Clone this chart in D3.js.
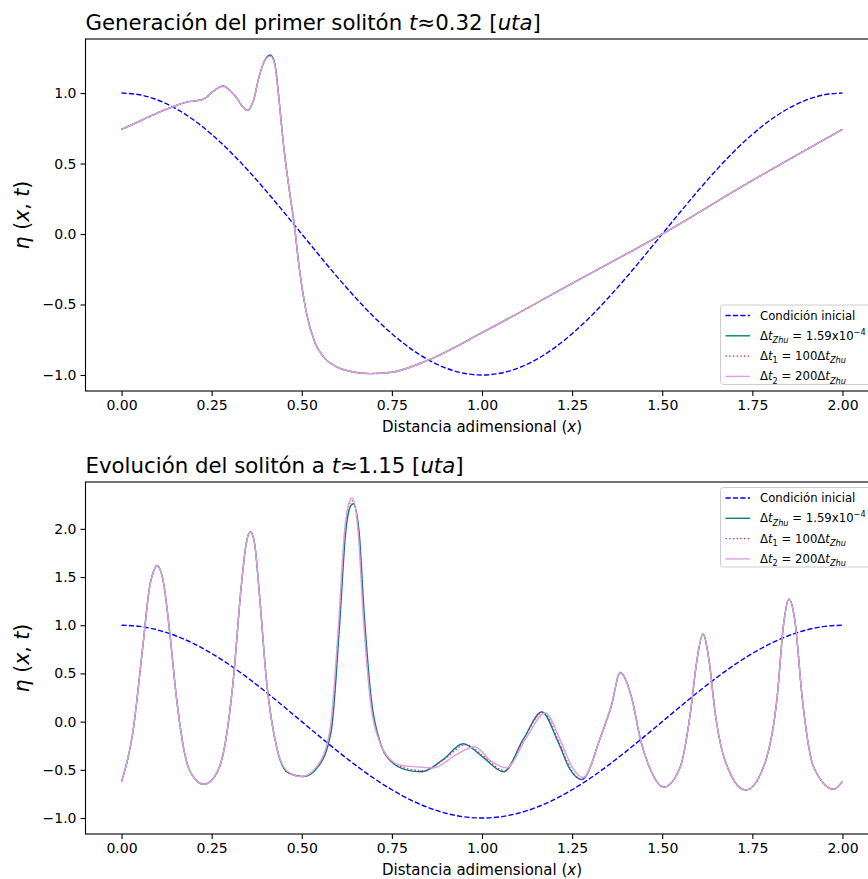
<!DOCTYPE html>
<html><head><meta charset="utf-8">
<script src="https://cdn.jsdelivr.net/npm/d3@7"></script>
<style>body{margin:0;background:#fff}svg{display:block;font-family:"DejaVu Sans",sans-serif}</style>
</head><body><svg id="c" width="868" height="879"></svg>
<script>
// ---------- data ----------
const xTicks = [0, 0.25, 0.5, 0.75, 1.0, 1.25, 1.5, 1.75, 2.0];
const yTicksTop = [-1.0, -0.5, 0.0, 0.5, 1.0];
const yTicksBot = [-1.0, -0.5, 0.0, 0.5, 1.0, 1.5, 2.0];

// initial condition (same in both panels)
const initX = [0,0.05,0.1,0.15,0.2,0.25,0.3,0.35,0.4,0.45,0.5,0.55,0.6,0.65,0.7,0.75,0.8,0.85,0.9,0.95,1.0,1.05,1.1,1.15,1.2,1.25,1.3,1.35,1.4,1.45,1.5,1.55,1.6,1.65,1.7,1.75,1.8,1.85,1.9,1.95,2.0];
const initY = [1,0.988,0.951,0.891,0.809,0.707,0.588,0.454,0.309,0.156,0,-0.156,-0.309,-0.454,-0.588,-0.707,-0.809,-0.891,-0.951,-0.988,-1,-0.988,-0.951,-0.891,-0.809,-0.707,-0.588,-0.454,-0.309,-0.156,0,0.156,0.309,0.454,0.588,0.707,0.809,0.891,0.951,0.988,1];

// top panel, t ~ 0.32
const topX = [0,0.05,0.1,0.15,0.18,0.205,0.23,0.255,0.282,0.30,0.319,0.335,0.35,0.365,0.383,0.40,0.413,0.425,0.439,0.448,0.465,0.479,0.494,0.513,0.535,0.56,0.595,0.63,0.69,0.75,0.85,1.0,1.25,1.5,1.75,2.0];
const topZhu = [0.743,0.80,0.86,0.91,0.936,0.945,0.96,1.014,1.05,1.02,0.967,0.905,0.878,0.94,1.13,1.245,1.27,1.21,0.90,0.665,0.32,0.07,-0.26,-0.56,-0.76,-0.87,-0.94,-0.972,-0.99,-0.98,-0.895,-0.70,-0.35,0.0,0.38,0.743];
const topDt1 = [0.743,0.80,0.86,0.91,0.936,0.945,0.96,1.014,1.05,1.02,0.967,0.905,0.878,0.94,1.13,1.242,1.265,1.205,0.898,0.662,0.32,0.07,-0.26,-0.56,-0.76,-0.87,-0.94,-0.972,-0.99,-0.98,-0.895,-0.70,-0.35,0.0,0.38,0.743];
const topDt2 = [0.743,0.80,0.86,0.91,0.936,0.945,0.96,1.014,1.05,1.02,0.967,0.905,0.878,0.94,1.13,1.24,1.262,1.2,0.896,0.66,0.32,0.07,-0.26,-0.56,-0.76,-0.87,-0.94,-0.972,-0.99,-0.98,-0.895,-0.70,-0.35,0.0,0.38,0.743];

// bottom panel, t ~ 1.15
const botZhuX = [0,0.031,0.059,0.078,0.09,0.098,0.115,0.133,0.152,0.175,0.203,0.228,0.258,0.286,0.31,0.332,0.346,0.358,0.369,0.383,0.402,0.43,0.462,0.505,0.545,0.582,0.604,0.622,0.636,0.643,0.659,0.673,0.692,0.72,0.75,0.79,0.832,0.89,0.948,1.0,1.06,1.115,1.166,1.21,1.245,1.277,1.33,1.36,1.383,1.415,1.44,1.47,1.504,1.55,1.578,1.596,1.613,1.63,1.647,1.689,1.732,1.781,1.819,1.837,1.852,1.869,1.888,1.92,1.976,2.0];
const botZhuY = [-0.62,-0.12,0.78,1.40,1.57,1.62,1.47,0.95,0.26,-0.33,-0.59,-0.65,-0.57,-0.26,0.43,1.40,1.85,1.97,1.85,1.30,0.43,-0.26,-0.53,-0.57,-0.47,-0.09,0.95,1.97,2.24,2.26,1.97,1.13,0.26,-0.24,-0.42,-0.50,-0.52,-0.40,-0.23,-0.36,-0.52,-0.18,0.10,-0.20,-0.50,-0.60,-0.15,0.18,0.51,0.25,-0.19,-0.52,-0.68,-0.47,0.087,0.63,0.91,0.63,0.087,-0.54,-0.71,-0.47,0.26,1.02,1.27,1.02,0.26,-0.47,-0.70,-0.62];
const botDt1X = [0,0.031,0.059,0.078,0.09,0.098,0.115,0.133,0.152,0.175,0.203,0.228,0.258,0.286,0.31,0.332,0.346,0.358,0.369,0.383,0.402,0.43,0.462,0.502,0.543,0.58,0.602,0.62,0.634,0.641,0.657,0.671,0.69,0.718,0.745,0.785,0.84,0.895,0.955,1.005,1.063,1.118,1.168,1.212,1.247,1.277,1.33,1.36,1.383,1.415,1.44,1.47,1.504,1.55,1.578,1.596,1.613,1.63,1.647,1.689,1.732,1.781,1.819,1.837,1.852,1.869,1.888,1.92,1.976,2.0];
const botDt1Y = [-0.62,-0.12,0.78,1.40,1.57,1.62,1.47,0.95,0.26,-0.33,-0.59,-0.65,-0.57,-0.26,0.43,1.40,1.85,1.97,1.85,1.30,0.43,-0.26,-0.53,-0.57,-0.47,-0.09,0.95,1.98,2.27,2.29,1.98,1.13,0.26,-0.23,-0.40,-0.48,-0.51,-0.39,-0.24,-0.36,-0.51,-0.17,0.10,-0.20,-0.50,-0.60,-0.15,0.18,0.51,0.25,-0.19,-0.52,-0.68,-0.47,0.087,0.63,0.91,0.63,0.087,-0.54,-0.71,-0.47,0.26,1.02,1.27,1.02,0.26,-0.47,-0.70,-0.62];
const botDt2X = [0,0.031,0.059,0.078,0.09,0.098,0.115,0.133,0.152,0.175,0.203,0.228,0.258,0.286,0.31,0.332,0.346,0.358,0.369,0.383,0.402,0.43,0.462,0.499,0.541,0.578,0.601,0.619,0.633,0.64,0.656,0.67,0.689,0.717,0.74,0.772,0.82,0.865,0.93,0.98,1.022,1.068,1.124,1.175,1.217,1.25,1.28,1.33,1.36,1.383,1.415,1.44,1.47,1.504,1.55,1.578,1.596,1.613,1.63,1.647,1.689,1.732,1.781,1.819,1.837,1.852,1.869,1.888,1.92,1.976,2.0];
const botDt2Y = [-0.62,-0.12,0.78,1.40,1.57,1.62,1.47,0.95,0.26,-0.33,-0.59,-0.65,-0.57,-0.26,0.43,1.40,1.85,1.97,1.85,1.30,0.43,-0.26,-0.52,-0.57,-0.47,-0.09,0.95,1.99,2.29,2.32,1.99,1.13,0.26,-0.22,-0.37,-0.45,-0.47,-0.48,-0.34,-0.26,-0.40,-0.48,-0.16,0.09,-0.19,-0.47,-0.58,-0.15,0.18,0.51,0.25,-0.19,-0.52,-0.68,-0.47,0.087,0.63,0.91,0.63,0.087,-0.54,-0.71,-0.47,0.26,1.02,1.27,1.02,0.26,-0.47,-0.70,-0.62];

// ---------- drawing ----------
const svg = d3.select("#c");
const fmtX = d3.format(".2f"), fmtY = d3.format(".1f");

const series = [
  {key:"init", color:"#0000ff", w:1.4, dash:"5.2,2.2"},
  {key:"zhu", color:"#008080", w:1.4, dash:null},
  {key:"dt1", color:"#e0208a", w:1.4, dash:"1.4,2.3"},
  {key:"dt2", color:"#dda0dd", w:1.4, dash:null}
];

const legendLabels = [
  [{t:"Condición inicial"}],
  [{t:"Δ"},{t:"t",i:1},{t:"Zhu",i:1,sub:1},{t:" = 1.59x10"},{t:"−4",sup:1}],
  [{t:"Δ"},{t:"t",i:1},{t:"1",sub:1},{t:" = 100Δ"},{t:"t",i:1},{t:"Zhu",i:1,sub:1}],
  [{t:"Δ"},{t:"t",i:1},{t:"2",sub:1},{t:" = 200Δ"},{t:"t",i:1},{t:"Zhu",i:1,sub:1}]
];

function rich(textSel, parts, fs) {
  let cur = 0;
  parts.forEach(p => {
    const target = p.sub ? fs*0.28 : (p.sup ? -fs*0.42 : 0);
    const ts = textSel.append("tspan").text(p.t);
    if (target !== cur) ts.attr("dy", target - cur);
    cur = target;
    if (p.i) ts.attr("font-style", "italic");
    if (p.sub || p.sup) ts.attr("font-size", fs*0.7);
  });
}

function panel(cfg) {
  const {L, R, T, B, yTicks, data, title, legendY, id} = cfg;
  const allY = [].concat(...data.map(d => d.y));
  const [mn, mx] = d3.extent(allY);
  const pad = (mx - mn) * 0.05;
  const x = d3.scaleLinear().domain([-0.1, 2.1]).range([L, R]);
  const y = d3.scaleLinear().domain([mn - pad, mx + pad]).range([B, T]);
  const g = svg.append("g");

  g.append("clipPath").attr("id", id).append("rect")
    .attr("x", L).attr("y", T).attr("width", R - L).attr("height", B - T);

  const line = d3.line().x(d => x(d[0])).y(d => y(d[1])).curve(d3.curveMonotoneX);
  data.forEach((d, i) => {
    const s = series[i];
    const n = Math.min(d.x.length, d.y.length);
    const pts = d3.range(n).map(k => [d.x[k], d.y[k]]);
    g.append("path").attr("clip-path", `url(#${id})`)
      .attr("d", line(pts)).attr("fill", "none")
      .attr("stroke", s.color).attr("stroke-width", s.w)
      .attr("stroke-dasharray", s.dash).attr("stroke-linejoin", "round");
  });

  // axes
  const xa = g.append("g").attr("transform", `translate(0,${B})`)
    .call(d3.axisBottom(x).tickValues(xTicks).tickFormat(fmtX).tickSize(5).tickPadding(4));
  const ya = g.append("g").attr("transform", `translate(${L},0)`)
    .call(d3.axisLeft(y).tickValues(yTicks).tickFormat(fmtY).tickSize(5).tickPadding(4));
  [xa, ya].forEach(a => {
    a.select(".domain").remove();
    a.selectAll("text").attr("font-family", "DejaVu Sans").attr("font-size", 14).attr("fill", "#000");
    a.selectAll("line").attr("stroke", "#000").attr("stroke-width", 1.1);
  });
  g.append("rect").attr("x", L).attr("y", T).attr("width", R - L).attr("height", B - T)
    .attr("fill", "none").attr("stroke", "#000").attr("stroke-width", 1.1);

  // title
  const tt = g.append("text").attr("x", L).attr("y", T - 9).attr("font-size", 21.3).attr("fill", "#000");
  rich(tt, title, 21.3);

  // x label
  const xl = g.append("text").attr("x", (L + R) / 2).attr("y", B + 41)
    .attr("text-anchor", "middle").attr("font-size", 15);
  rich(xl, [{t:"Distancia adimensional ("},{t:"x",i:1},{t:")"}], 15);

  // y label
  const yl = g.append("text").attr("transform", `translate(29,${(T + B) / 2}) rotate(-90)`)
    .attr("text-anchor", "middle").attr("font-size", 20.5);
  rich(yl, [{t:"η",i:1},{t:" ("},{t:"x",i:1},{t:", "},{t:"t",i:1},{t:")"}], 20.5);

  // legend
  const lg = g.append("g");
  const boxX = 720.5, boxW = 160, rowH = 20.3;
  lg.append("rect").attr("x", boxX).attr("y", legendY).attr("width", boxW).attr("height", 79.5)
    .attr("rx", 3).attr("fill", "#fff").attr("fill-opacity", 0.8)
    .attr("stroke", "#cccccc").attr("stroke-width", 1);
  series.forEach((s, i) => {
    const cy = legendY + 10.5 + i * rowH;
    lg.append("line").attr("x1", 725.5).attr("x2", 750).attr("y1", cy).attr("y2", cy)
      .attr("stroke", s.color).attr("stroke-width", s.w).attr("stroke-dasharray", s.dash);
    const t = lg.append("text").attr("x", 760).attr("y", cy + 4).attr("font-size", 11.7).attr("fill", "#000");
    rich(t, legendLabels[i], 11.7);
  });
}

panel({
  id: "clipTop", L: 85.5, R: 878.5, T: 39, B: 391, yTicks: yTicksTop, legendY: 305,
  title: [{t:"Generación del primer solitón "},{t:"t",i:1},{t:"≈0.32 ["},{t:"uta",i:1},{t:"]"}],
  data: [{x:initX,y:initY},{x:topX,y:topZhu},{x:topX,y:topDt1},{x:topX,y:topDt2}]
});
panel({
  id: "clipBot", L: 85.5, R: 878.5, T: 482, B: 834, yTicks: yTicksBot, legendY: 487.5,
  title: [{t:"Evolución del solitón a "},{t:"t",i:1},{t:"≈1.15 ["},{t:"uta",i:1},{t:"]"}],
  data: [{x:initX,y:initY},{x:botZhuX,y:botZhuY},{x:botDt1X,y:botDt1Y},{x:botDt2X,y:botDt2Y}]
});
</script></body></html>
